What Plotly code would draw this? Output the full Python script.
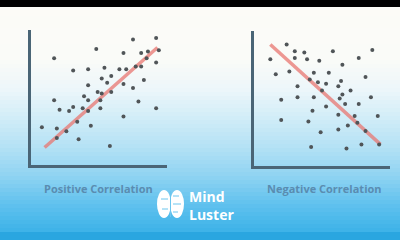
import plotly.graph_objects as go

W, H = 400, 240

# ---- data (0-10 units on each panel) ----
pos_x = [7.5, 9.2, 4.8, 6.8, 8.1, 8.6, 9.4, 1.7, 8.5, 3.1, 4.2, 5.4, 6.5, 7.0, 7.7, 8.1, 9.2,
         5.2, 5.9, 5.6, 6.8, 8.3, 4.2, 7.5, 4.9, 5.2, 5.9, 3.9, 4.2, 5.1, 1.7, 7.9, 2.1, 2.8,
         3.1, 3.8, 4.2, 5.1, 9.2, 6.8, 0.8, 1.9, 3.4, 4.4, 2.6, 1.9, 3.5, 5.8]
pos_y = [9.3, 9.4, 8.6, 8.3, 8.3, 8.4, 8.5, 7.9, 7.9, 7.0, 7.1, 7.2, 7.1, 7.1, 7.3, 7.3, 7.6,
         6.4, 6.6, 6.1, 6.0, 6.3, 5.9, 5.7, 5.4, 5.3, 5.4, 5.1, 4.8, 4.8, 4.8, 4.7, 4.1, 4.0,
         4.3, 4.2, 4.0, 4.2, 4.2, 3.6, 2.8, 2.7, 3.2, 2.9, 2.5, 2.0, 1.9, 1.4]
pos_line_x = [1.0, 9.3]
pos_line_y = [1.3, 8.7]

neg_x = [2.4, 3.0, 3.7, 5.8, 8.7, 1.2, 3.0, 3.9, 4.8, 7.7, 6.5, 2.6, 1.6, 4.4, 5.5, 8.2,
         4.1, 4.7, 5.3, 6.4, 6.2, 3.2, 5.0, 7.1, 6.5, 2.0, 3.2, 4.4, 6.3, 8.6, 6.7, 7.7,
         5.3, 4.3, 6.2, 7.4, 9.1, 2.0, 4.0, 6.9, 7.6, 4.9, 6.2, 8.2, 4.2, 6.8, 7.9, 9.2]
neg_y = [9.0, 8.5, 8.4, 8.5, 8.6, 7.9, 8.0, 7.9, 7.8, 8.0, 7.5, 7.0, 6.8, 6.9, 6.9, 6.6,
         6.4, 6.2, 6.1, 6.3, 5.9, 5.9, 5.6, 5.6, 5.3, 4.9, 5.1, 5.1, 5.0, 5.1, 4.6, 4.6,
         4.4, 4.1, 3.8, 3.7, 3.7, 3.4, 3.3, 3.0, 3.2, 2.5, 2.7, 2.6, 1.4, 1.3, 1.6, 1.6]
neg_line_x = [1.2, 9.3]
neg_line_y = [9.0, 1.6]

titles = ["Positive Correlation", "Negative Correlation"]
logo_text = "Mind<br>Luster"


def px(x):
    return x / W


def py(y):
    return 1 - y / H


fig = go.Figure()

dot = dict(color="#505558", size=4)
line_style = dict(color="rgba(232,118,112,0.75)", width=3.5)

fig.add_trace(go.Scatter(x=pos_line_x, y=pos_line_y, mode="lines", line=line_style,
                         xaxis="x", yaxis="y", hoverinfo="skip"))
fig.add_trace(go.Scatter(x=pos_x, y=pos_y, mode="markers", marker=dot, xaxis="x", yaxis="y"))
fig.add_trace(go.Scatter(x=neg_line_x, y=neg_line_y, mode="lines", line=line_style,
                         xaxis="x2", yaxis="y2", hoverinfo="skip"))
fig.add_trace(go.Scatter(x=neg_x, y=neg_y, mode="markers", marker=dot, xaxis="x2", yaxis="y2"))

axis_common = dict(showgrid=False, zeroline=False, showticklabels=False, ticks="",
                   showline=True, linecolor="#4a6576", linewidth=3, range=[0, 10])

fig.update_layout(
    width=W, height=H,
    margin=dict(l=0, r=0, t=0, b=0),
    paper_bgcolor="#ffffff",
    plot_bgcolor="rgba(0,0,0,0)",
    showlegend=False,
    xaxis=dict(axis_common, domain=[px(31), px(167)], anchor="y"),
    yaxis=dict(axis_common, domain=[py(165), py(30)], anchor="x"),
    xaxis2=dict(axis_common, domain=[px(254), px(390)], anchor="y2"),
    yaxis2=dict(axis_common, domain=[py(166), py(31)], anchor="x2"),
)

# gradient background
stops = [(0, (252, 251, 247)), (60, (250, 251, 248)), (90, (236, 246, 250)),
         (115, (212, 238, 248)), (145, (182, 226, 245)), (175, (145, 212, 242)),
         (205, (95, 193, 238)), (232, (60, 178, 232))]


def col_at(y):
    for (y0, c0), (y1, c1) in zip(stops[:-1], stops[1:]):
        if y0 <= y <= y1:
            t = (y - y0) / (y1 - y0)
            return tuple(round(a + (b - a) * t) for a, b in zip(c0, c1))
    return stops[-1][1]


shapes = []
step = 4
for y in range(0, 232, step):
    c = col_at(y + step / 2)
    shapes.append(dict(type="rect", xref="paper", yref="paper", x0=0, x1=1,
                       y0=py(y + step), y1=py(y), fillcolor="rgb(%d,%d,%d)" % c,
                       line=dict(width=0), layer="below"))
shapes.append(dict(type="rect", xref="paper", yref="paper", x0=0, x1=1, y0=0, y1=py(232),
                   fillcolor="#2aa6e0", line=dict(width=0), layer="below"))
shapes.append(dict(type="rect", xref="paper", yref="paper", x0=0, x1=1, y0=py(7), y1=1,
                   fillcolor="#000000", line=dict(width=0), layer="above"))
# brain icon (simple white lobes with circuit gaps)
shapes.append(dict(type="circle", xref="paper", yref="paper", x0=px(157), x1=px(171),
                   y0=py(218), y1=py(190), fillcolor="#ffffff", line=dict(width=0)))
shapes.append(dict(type="circle", xref="paper", yref="paper", x0=px(170), x1=px(184),
                   y0=py(218), y1=py(190), fillcolor="#ffffff", line=dict(width=0)))
for (xa, ya, xb, yb) in [(170.5, 191, 170.5, 217), (161, 199, 168, 199), (173, 204, 181, 204),
                         (162, 209, 168, 209), (173, 196, 179, 196), (173, 212, 178, 212)]:
    shapes.append(dict(type="line", xref="paper", yref="paper", x0=px(xa), x1=px(xb),
                       y0=py(ya), y1=py(yb), line=dict(color="#6cc6ee", width=1)))
fig.update_layout(shapes=shapes)

annotations = [
    dict(text="<b>%s</b>" % titles[0], x=px(98), y=py(188), xref="paper", yref="paper",
         xanchor="center", yanchor="middle", showarrow=False,
         font=dict(family="Open Sans", size=11, color="#5a8cb0")),
    dict(text="<b>%s</b>" % titles[1], x=px(324), y=py(188), xref="paper", yref="paper",
         xanchor="center", yanchor="middle", showarrow=False,
         font=dict(family="Open Sans", size=11, color="#5a8cb0")),
    dict(text="<b>%s</b>" % logo_text, x=px(187), y=py(205), xref="paper", yref="paper",
         xanchor="left", yanchor="middle", align="left", showarrow=False,
         font=dict(family="Open Sans", size=14, color="#ffffff")),
]
fig.update_layout(annotations=annotations)

fig.write_html("out.html")
